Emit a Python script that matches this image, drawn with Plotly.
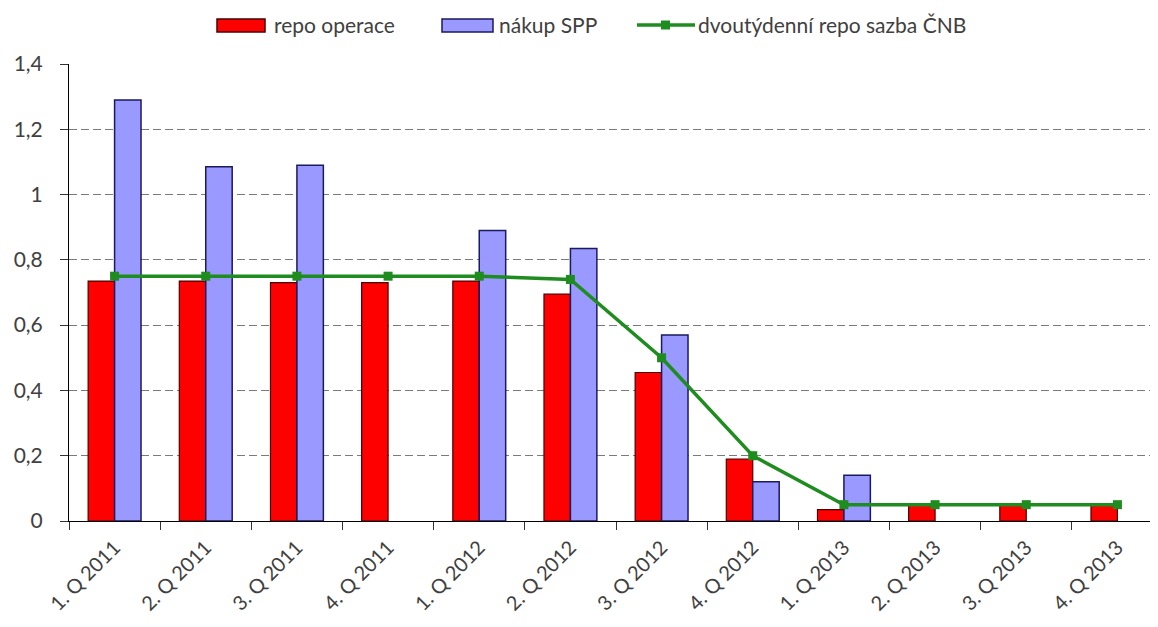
import plotly.graph_objects as go

categories = ["1. Q 2011", "2. Q 2011", "3. Q 2011", "4. Q 2011",
              "1. Q 2012", "2. Q 2012", "3. Q 2012", "4. Q 2012",
              "1. Q 2013", "2. Q 2013", "3. Q 2013", "4. Q 2013"]
repo_operace = [0.735, 0.735, 0.73, 0.73, 0.735, 0.695, 0.455, 0.19, 0.035, 0.05, 0.05, 0.05]
nakup_spp = [1.29, 1.085, 1.09, None, 0.89, 0.835, 0.57, 0.12, 0.14, None, None, None]
repo_sazba = [0.75, 0.75, 0.75, 0.75, 0.75, 0.74, 0.5, 0.2, 0.05, 0.05, 0.05, 0.05]
series_names = ["repo operace", "nákup SPP", "dvoutýdenní repo sazba ČNB"]
y_tickvals = [0, 0.2, 0.4, 0.6, 0.8, 1.0, 1.2, 1.4]
y_ticktext = ["0", "0,2", "0,4", "0,6", "0,8", "1", "1,2", "1,4"]

FONT = "Lato"
TXT = "#404040"
RED, RED_EDGE = "#ff0000", "#4a0000"
BLUE, BLUE_EDGE = "#9999ff", "#1a1a5e"
GREEN = "#1e8c1e"

W, H = 1158, 627
ML, MR, MT, MB = 61, 3, 56, 114
PW, PH = W - ML - MR, H - MT - MB


def px(x):
    return (x - ML) / PW


def py(y):
    return 1 + (MT - y) / PH


fig = go.Figure()
fig.add_trace(go.Bar(
    x=categories, y=repo_operace, name=series_names[0],
    marker=dict(color=RED, line=dict(color=RED_EDGE, width=1.2)),
))
fig.add_trace(go.Bar(
    x=categories, y=nakup_spp, name=series_names[1],
    marker=dict(color=BLUE, line=dict(color=BLUE_EDGE, width=1.5)),
))
fig.add_trace(go.Scatter(
    x=categories, y=repo_sazba, name=series_names[2],
    mode="lines+markers",
    line=dict(color=GREEN, width=3.5),
    marker=dict(symbol="square", size=9, color=GREEN),
))

# manual legend (wide swatches as in the original)
shapes = [
    dict(type="rect", xref="paper", yref="paper", x0=px(209), x1=px(257), y0=py(24), y1=py(11),
         fillcolor=RED, line=dict(color=RED_EDGE, width=1.5)),
    dict(type="rect", xref="paper", yref="paper", x0=px(434), x1=px(485), y0=py(24), y1=py(11),
         fillcolor=BLUE, line=dict(color=BLUE_EDGE, width=1.5)),
    dict(type="line", xref="paper", yref="paper", x0=px(629), x1=px(687), y0=py(17), y1=py(17),
         line=dict(color=GREEN, width=3.5)),
    dict(type="rect", xref="paper", yref="paper", x0=px(653), x1=px(662), y0=py(21.5), y1=py(12.5),
         fillcolor=GREEN, line=dict(color=GREEN, width=0)),
]
annotations = [
    dict(text=series_names[0], x=px(264), y=py(17)),
    dict(text=series_names[1], x=px(489), y=py(17)),
    dict(text=series_names[2], x=px(688), y=py(17)),
]
for a in annotations:
    a.update(xref="paper", yref="paper", xanchor="left", yanchor="middle", showarrow=False,
             font=dict(family=FONT, size=21, color=TXT))

fig.update_layout(
    width=W, height=H,
    margin=dict(l=ML, r=MR, t=MT, b=MB, autoexpand=False),
    paper_bgcolor="white", plot_bgcolor="white",
    barmode="group", bargap=0.42, bargroupgap=0,
    font=dict(family=FONT, size=16, color=TXT),
    showlegend=False,
    shapes=shapes, annotations=annotations,
)
fig.update_xaxes(
    type="category", range=[-0.5, len(categories) - 0.5],
    tickangle=-45, showline=True, linecolor="black", linewidth=1,
    ticks="outside", tickson="boundaries", ticklen=8, tickcolor="#333333",
    showgrid=False, automargin=False, ticklabelstandoff=6,
    tickfont=dict(family=FONT, size=20, color=TXT),
)
fig.update_yaxes(
    range=[0, 1.4], tickvals=y_tickvals, ticktext=y_ticktext,
    showline=True, linecolor="black", linewidth=1,
    ticks="outside", ticklen=8, tickcolor="#333333",
    showgrid=True, gridcolor="#7a7a7a", griddash="8px,4px", gridwidth=1,
    zeroline=False, automargin=False, ticklabelstandoff=13,
    tickfont=dict(family=FONT, size=21, color=TXT),
)

fig.write_html("out.html")
